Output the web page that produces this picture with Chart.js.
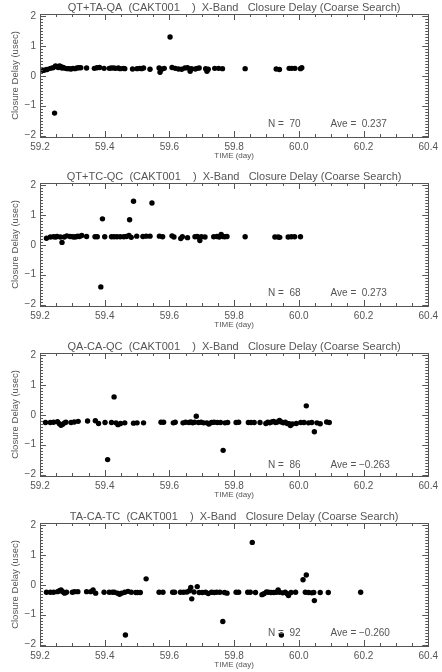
<!DOCTYPE html>
<html>
<head>
<meta charset="utf-8">
<script src="https://cdn.jsdelivr.net/npm/chart.js@4.4.1/dist/chart.umd.min.js"></script>
<style>
  html, body { margin:0; padding:0; background:#fff; width:442px; height:672px; overflow:hidden; }
  canvas { position:absolute; left:0; }
</style>
</head>
<body>
<canvas id="p0" width="442" height="170" style="top:0px"></canvas>
<canvas id="p1" width="442" height="170" style="top:169px"></canvas>
<canvas id="p2" width="442" height="170" style="top:339px"></canvas>
<canvas id="p3" width="442" height="170" style="top:509px"></canvas>
<script>
// ---- datos ----
const X_TICKS = [59.2, 59.4, 59.6, 59.8, 60.0, 60.2, 60.4];
const Y_TICKS = [-2, -1, 0, 1, 2];
const TITLES = [
  'QT+TA-QA  (CAKT001    )  X-Band   Closure Delay (Coarse Search)',
  'QT+TC-QC  (CAKT001    )  X-Band   Closure Delay (Coarse Search)',
  'QA-CA-QC  (CAKT001    )  X-Band   Closure Delay (Coarse Search)',
  'TA-CA-TC  (CAKT001    )  X-Band   Closure Delay (Coarse Search)'
];
const N_LABELS   = ['N =  70', 'N =  68', 'N =  86', 'N =  92'];
const AVE_LABELS = ['Ave =  0.237', 'Ave =  0.273', 'Ave = \u22120.263', 'Ave = \u22120.260'];
const NOTE_Y = [-1.62, -1.62, -1.70, -1.62];

// QT+TA-QA
const t1 = [59.210,59.216,59.222,59.232,59.240,59.245,59.248,59.252,59.257,59.260,59.264,59.268,59.272,59.278,59.284,59.290,59.296,59.302,59.308,59.314,59.320,59.326,59.344,59.368,59.376,59.384,59.398,59.414,59.420,59.428,59.434,59.442,59.448,59.458,59.462,59.486,59.500,59.508,59.514,59.520,59.540,59.568,59.571,59.576,59.584,59.602,59.608,59.618,59.628,59.638,59.648,59.656,59.664,59.668,59.680,59.686,59.692,59.712,59.716,59.720,59.740,59.752,59.764,59.834,59.930,59.940,59.970,59.978,59.988,60.005,60.009];
const d1 = [0.18,0.20,0.21,0.25,0.27,-1.25,0.33,0.30,0.28,0.33,0.31,0.26,0.28,0.25,0.24,0.24,0.23,0.25,0.24,0.26,0.27,0.27,0.26,0.25,0.27,0.28,0.25,0.25,0.26,0.26,0.25,0.26,0.24,0.25,0.24,0.23,0.24,0.25,0.24,0.26,0.22,0.26,0.12,0.22,0.25,1.30,0.28,0.25,0.23,0.22,0.26,0.27,0.15,0.24,0.23,0.25,0.26,0.24,0.15,0.22,0.25,0.25,0.24,0.24,0.23,0.21,0.25,0.25,0.25,0.24,0.27];

// QT+TC-QC
const t2 = [59.220,59.232,59.242,59.248,59.253,59.263,59.268,59.275,59.283,59.293,59.301,59.306,59.312,59.316,59.322,59.329,59.344,59.370,59.377,59.388,59.393,59.400,59.421,59.429,59.438,59.448,59.459,59.467,59.475,59.477,59.482,59.489,59.499,59.518,59.528,59.540,59.546,59.569,59.579,59.608,59.614,59.635,59.640,59.656,59.679,59.686,59.691,59.694,59.699,59.710,59.737,59.747,59.754,59.760,59.765,59.771,59.778,59.834,59.926,59.936,59.941,59.967,59.977,59.987,60.005];
const d2 = [0.22,0.26,0.27,0.26,0.28,0.26,0.08,0.26,0.30,0.28,0.27,0.26,0.27,0.29,0.28,0.31,0.28,0.27,0.27,-1.41,0.87,0.27,0.27,0.27,0.27,0.27,0.27,0.28,0.31,0.84,0.25,1.46,0.29,0.28,0.29,0.29,1.40,0.29,0.27,0.30,0.26,0.21,0.27,0.24,0.27,0.28,0.25,0.14,0.27,0.26,0.27,0.28,0.26,0.35,0.28,0.27,0.28,0.27,0.26,0.26,0.25,0.26,0.27,0.27,0.27];

// QA-CA-QC
const t3 = [59.217,59.232,59.242,59.254,59.260,59.265,59.270,59.276,59.280,59.296,59.306,59.318,59.347,59.371,59.381,59.401,59.409,59.421,59.429,59.435,59.441,59.449,59.462,59.489,59.500,59.520,59.574,59.582,59.612,59.618,59.642,59.650,59.660,59.666,59.672,59.678,59.683,59.690,59.698,59.706,59.716,59.722,59.730,59.738,59.748,59.758,59.766,59.772,59.780,59.806,59.814,59.844,59.852,59.862,59.880,59.898,59.904,59.910,59.916,59.922,59.928,59.934,59.940,59.946,59.952,59.958,59.964,59.970,59.974,59.980,59.992,60.006,60.016,60.023,60.030,60.040,60.048,60.056,60.066,60.086,60.094];
const d3 = [-0.26,-0.26,-0.25,-0.23,-0.30,-0.35,-0.32,-0.27,-0.25,-0.26,-0.24,-0.22,-0.21,-0.20,-0.29,-0.26,-1.50,-0.26,0.60,-0.27,-0.33,-0.29,-0.27,-0.28,-0.27,-0.27,-0.25,-0.25,-0.27,-0.25,-0.27,-0.25,-0.26,-0.24,-0.27,-0.25,-0.05,-0.26,-0.25,-0.27,-0.27,-0.31,-0.26,-0.25,-0.26,-0.26,-1.19,-0.27,-0.26,-0.26,-0.25,-0.26,-0.26,-0.26,-0.26,-0.29,-0.25,-0.27,-0.24,-0.22,-0.26,-0.24,-0.19,-0.24,-0.27,-0.25,-0.29,-0.30,-0.36,-0.31,-0.29,-0.26,-0.26,0.30,-0.27,-0.26,-0.57,-0.27,-0.30,-0.24,-0.26];

// TA-CA-TC
const t4 = [59.220,59.232,59.242,59.254,59.260,59.265,59.270,59.276,59.282,59.300,59.307,59.317,59.344,59.357,59.364,59.372,59.398,59.414,59.424,59.430,59.440,59.446,59.452,59.462,59.464,59.472,59.482,59.496,59.502,59.510,59.528,59.568,59.580,59.610,59.616,59.634,59.644,59.654,59.662,59.666,59.669,59.676,59.686,59.692,59.702,59.712,59.720,59.730,59.738,59.746,59.756,59.765,59.770,59.778,59.806,59.814,59.842,59.850,59.856,59.866,59.886,59.892,59.900,59.906,59.914,59.922,59.930,59.936,59.940,59.946,59.950,59.958,59.964,59.968,59.976,59.990,60.013,60.020,60.023,60.030,60.040,60.046,60.048,60.066,60.091,60.191];
const d4 = [-0.25,-0.25,-0.25,-0.23,-0.20,-0.17,-0.23,-0.28,-0.25,-0.25,-0.23,-0.23,-0.23,-0.23,-0.17,-0.28,-0.25,-0.25,-0.25,-0.25,-0.28,-0.32,-0.28,-0.25,-1.68,-0.22,-0.25,-0.26,-0.26,-0.26,0.20,-0.25,-0.25,-0.25,-0.25,-0.25,-0.25,-0.24,-0.20,-0.09,-0.47,-0.24,-0.06,-0.26,-0.26,-0.25,-0.29,-0.25,-0.26,-0.25,-0.25,-1.23,-0.26,-0.28,-0.25,-0.25,-0.25,-0.25,1.42,-0.26,-0.33,-0.30,-0.24,-0.25,-0.26,-0.26,-0.25,-0.17,-0.25,-1.68,-0.27,-0.25,-0.30,-0.36,-0.26,-0.25,0.17,-0.25,0.33,-0.26,-0.27,-0.26,-0.53,-0.26,-0.26,-0.25];

const SERIES = [[t1, d1], [t2, d2], [t3, d3], [t4, d4]];

// ---- estilo ----
const INK = '#555';
const FONT = '"Liberation Sans", Arial, sans-serif';

// marco con ticks hacia dentro + textos (título, ejes, N / Ave)
const framePlugin = {
  id: 'frame',
  afterDraw(chart){
    const { ctx, chartArea: a, scales: { x, y } } = chart;
    const i = chart.options.plugins.frame.idx;
    ctx.save();
    ctx.strokeStyle = INK; ctx.lineWidth = 1;
    ctx.strokeRect(Math.round(a.left) + 0.5, Math.round(a.top) + 0.5, Math.round(a.width), Math.round(a.height));
    const seg = (x0, y0, x1, y1) => { ctx.beginPath(); ctx.moveTo(x0, y0); ctx.lineTo(x1, y1); ctx.stroke(); };
    for (let k = -21; k <= 21; k++){
      const py = Math.round(y.getPixelForValue(k / 10)) + 0.5;
      if (py < a.top || py > a.bottom) continue;
      const len = k % 10 === 0 ? 6 : 3;
      seg(a.left, py, a.left + len, py);
      seg(a.right, py, a.right - len, py);
    }
    for (let k = 0; k <= 24; k++){
      const px = Math.round(x.getPixelForValue(59.2 + k * 0.05)) + 0.5;
      const len = k % 4 === 0 ? 6 : 3;
      seg(px, a.bottom, px, a.bottom - len);
      seg(px, a.top, px, a.top + len);
    }
    ctx.fillStyle = INK;
    ctx.textAlign = 'center'; ctx.textBaseline = 'middle';
    ctx.font = `11px ${FONT}`;
    ctx.fillText(TITLES[i], (a.left + a.right) / 2, a.top - 6.5);
    ctx.font = `8px ${FONT}`;
    ctx.fillText('TIME (day)', (a.left + a.right) / 2, a.bottom + 18.5);
    ctx.font = `9.5px ${FONT}`;
    ctx.save();
    ctx.translate(15, (a.top + a.bottom) / 2);
    ctx.rotate(-Math.PI / 2);
    ctx.fillText('Closure Delay (usec)', 0, 0);
    ctx.restore();
    ctx.font = `10px ${FONT}`;
    ctx.textAlign = 'left';
    const ny = y.getPixelForValue(NOTE_Y[i]);
    ctx.fillText(N_LABELS[i], x.getPixelForValue(59.905), ny);
    ctx.fillText(AVE_LABELS[i], x.getPixelForValue(60.098), ny);
    ctx.restore();
  }
};

function makePanel(i){
  const [t, d] = SERIES[i];
  const pts = t.map((tv, k) => ({ x: tv, y: d[k] }));
  return new Chart(document.getElementById('p' + i), {
    type: 'scatter',
    data: { datasets: [{ data: pts, pointRadius: 2.7, pointBorderWidth: 0, pointBackgroundColor: '#000', pointHoverRadius: 2.7 }] },
    options: {
      responsive: false, animation: false, devicePixelRatio: 1,
      layout: { padding: { top: 14, right: 10, left: 0, bottom: 0 } },
      scales: {
        x: { type: 'linear', min: 59.2, max: 60.4,
             afterFit: s => { s.height = 33; },
             afterBuildTicks: s => { s.ticks = X_TICKS.map(v => ({ value: v })); },
             ticks: { color: INK, font: { family: FONT, size: 10 }, padding: 4, maxRotation: 0, autoSkip: false,
                      callback: v => Number(v).toFixed(1) },
             grid: { display: false, drawTicks: false }, border: { display: false } },
        y: { min: -2.05, max: 2.07,
             afterFit: s => { s.width = 40; },
             afterBuildTicks: s => { s.ticks = Y_TICKS.map(v => ({ value: v })); },
             ticks: { color: INK, font: { family: FONT, size: 10 }, padding: 4,
                      callback: v => String(v).replace('-', '\u2212') },
             grid: { display: false, drawTicks: false }, border: { display: false } }
      },
      plugins: { legend: { display: false }, tooltip: { enabled: false }, frame: { idx: i } }
    },
    plugins: [framePlugin]
  });
}

[0, 1, 2, 3].forEach(makePanel);
</script>
</body>
</html>
